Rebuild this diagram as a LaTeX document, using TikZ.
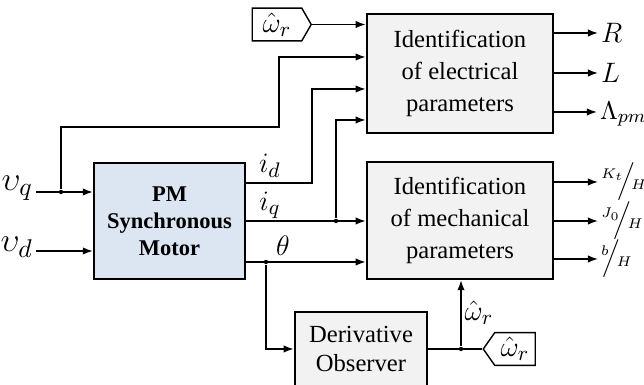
\documentclass[tikz,border=0pt]{standalone}
\usepackage{fontspec}
\setmainfont{Liberation Serif}
\usepackage{amsmath,amssymb}
\usepackage{xcolor}
\usetikzlibrary{arrows.meta,shapes.symbols}
\definecolor{pmblue}{RGB}{220,230,242}
\definecolor{idgray}{RGB}{242,242,242}

\begin{document}
\begin{tikzpicture}[
  x=0.15mm, y=-0.15mm, line width=0.6pt,
  font=\fontsize{10.5}{13.6}\selectfont, >={Latex[length=1.5mm,width=1.1mm]},
  box/.style={draw, line width=1.1pt, align=center, inner sep=2pt},
  idbox/.style={box, fill=idgray, minimum width=27.9mm, minimum height=17.8mm},
  pmbox/.style={box, fill=pmblue, minimum width=22.6mm, minimum height=17.4mm, font=\fontsize{9.6}{11.6}\selectfont\bfseries},
  obsbox/.style={box, fill=idgray, minimum width=19.8mm, minimum height=11.1mm, font=\fontsize{10.5}{12}\selectfont},
  tag/.style={draw, signal, fill=white, inner sep=1pt, minimum height=4.9mm, font=\fontsize{13}{15}\selectfont},
  lbl/.style={inner sep=1pt, font=\fontsize{13}{15}\selectfont},
  outl/.style={anchor=west, inner sep=1pt, font=\fontsize{12}{14}\selectfont},
  fracl/.style={anchor=west, inner sep=1pt, font=\fontsize{9}{10}\selectfont},
  dot/.style={circle, fill, inner sep=0pt, minimum size=0.65mm},
]
\useasboundingbox (0,0) rectangle (644,385);
% blocks
\node[pmbox] (pm) at (169.5,221) {PM\\Synchronous\\Motor};
\node[idbox] (elec) at (460,73.5) {Identification\\of electrical\\parameters};
\node[idbox, minimum height=17.5mm] (mech) at (460,220.5) {Identification\\of mechanical\\parameters};
\node[obsbox] (obs) at (361,349) {Derivative\\Observer};
\node[tag, signal to=east, signal pointer angle=120, minimum width=8.85mm] (wtop) at (277,24.5) {$\hat{\omega}_r$};
\node[tag, signal to=west, signal pointer angle=110, minimum width=7.8mm] (wbot) at (515,349) {$\hat{\omega}_r$};
% inputs
\node[lbl, anchor=east, font=\fontsize{15}{17}\selectfont] (vq) at (36,188) {$\upsilon_q$};
\node[lbl, anchor=east, font=\fontsize{15}{17}\selectfont] (vd) at (36,247) {$\upsilon_d$};
\draw[->] (vq.east |- 0,192) -- (pm.west |- 0,192);
\draw[->] (vd.east |- 0,251) -- (pm.west |- 0,251);
\node[dot] (jq) at (61,192) {};
\draw[->] (jq) |- (279,127) |- (elec.west |- 0,57);
\draw[->] (wtop.east) -- (wtop.east -| elec.west);
% motor outputs
\draw[->] (pm.east |- 0,183) -- (312,183) |- (elec.west |- 0,89);
\node[lbl] (id) at (270,166) {$i_d$};
\draw[->] (pm.east |- 0,221) -- (mech.west |- 0,221);
\node[lbl] (iq) at (270,205) {$i_q$};
\node[dot] (jiq) at (336,221) {};
\draw[->] (jiq) |- (elec.west |- 0,120);
\draw[->] (pm.east |- 0,262) -- (mech.west |- 0,262);
\node[lbl] (th) at (283,246) {$\theta$};
\node[dot] (jth) at (266,262) {};
\draw[->] (jth) |- (obs.west);
% observer
\draw (obs.east) -- (wbot.west);
\node[dot] (jw) at (461,349) {};
\draw[->] (jw) -- (jw |- mech.south);
\node[lbl] (wl) at (479,313) {$\hat{\omega}_r$};
% parameters
\node[outl] (oR) at (598,33) {$R$};
\node[outl] (oL) at (598,73) {$L$};
\node[outl, font=\fontsize{11}{13}\selectfont] (oLam) at (597,114) {$\Lambda_{pm}$};
\draw[->] (elec.east |- oR) -- (oR);
\draw[->] (elec.east |- oL) -- (oL);
\draw[->] (elec.east |- 0,112) -- (oLam.west |- 0,112);
\node[fracl] (oK) at (598,182) {$^{K_t}\!\!\Big/\!_{H}$};
\node[fracl] (oJ) at (598,221) {$^{J_0}\!\!\Big/\!_{H}$};
\node[fracl] (ob) at (598,259) {$^{b}\!\!\Big/\!_{H}$};
\draw[->] (mech.east |- oK) -- (oK);
\draw[->] (mech.east |- oJ) -- (oJ);
\draw[->] (mech.east |- ob) -- (ob);
\end{tikzpicture}
\end{document}
